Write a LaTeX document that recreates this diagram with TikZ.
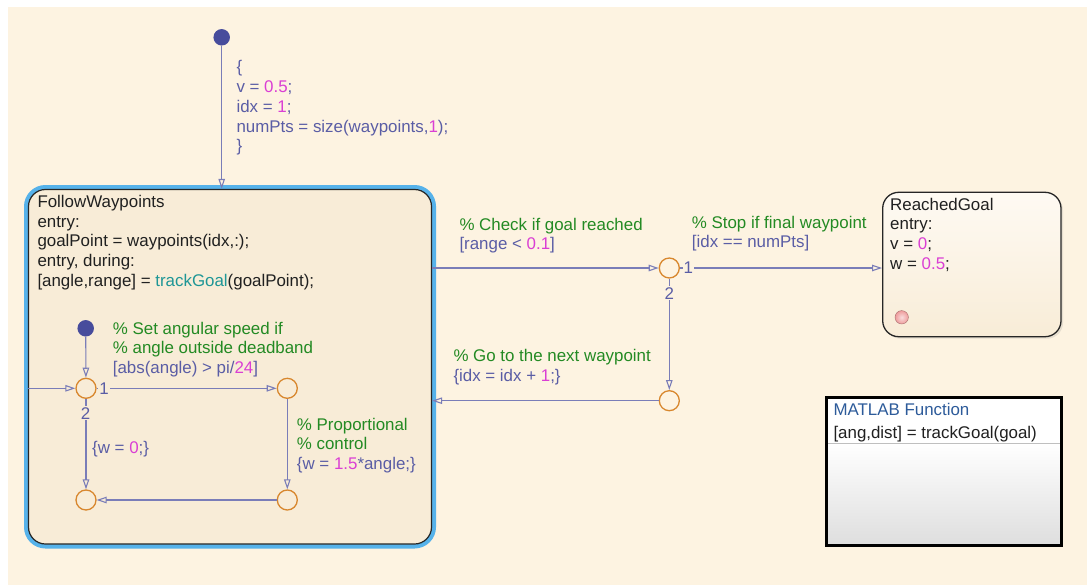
\documentclass[tikz,border=0pt]{standalone}
\usepackage{fontspec}
\setmainfont{Liberation Sans}
\usetikzlibrary{arrows.meta,shadows}

\definecolor{bgc}{HTML}{FDF3E1}
\definecolor{stfill}{HTML}{F8ECD7}
\definecolor{selc}{HTML}{56B2EA}
\definecolor{trc}{HTML}{7A7DB8}
\definecolor{trtxt}{HTML}{5A5DA5}
\definecolor{juncc}{HTML}{D8872E}
\definecolor{dotc}{HTML}{474C9C}
\definecolor{grnc}{HTML}{238A23}
\definecolor{magc}{HTML}{DA3FD4}
\definecolor{tealc}{HTML}{1E9696}
\definecolor{mfblue}{HTML}{2D5B9A}
\definecolor{pinkc}{HTML}{EE9C9C}
\definecolor{inkc}{HTML}{202020}

\newcommand{\lnstrut}{\rule{0pt}{14pt}}
\newcommand{\mg}[1]{\textcolor{magc}{#1}}
\newcommand{\gc}[1]{\textcolor{grnc}{#1}}

\begin{document}
\begin{tikzpicture}[x=1pt,y=-1pt,
  txt/.style={anchor=north west, inner sep=0pt, align=left,
    font=\fontsize{16.9}{19.7}\selectfont},
  lbl/.style={txt, text=trtxt},
  stxt/.style={txt, text=inkc},
  tr/.style={draw=trc, line width=1.1pt,
    -{Triangle[open, length=10pt, width=6.5pt]}},
  junc/.style={circle, draw=juncc, line width=1.3pt, minimum size=20pt, inner sep=0pt},
  dflt/.style={circle, fill=dotc, minimum size=16.5pt, inner sep=0pt},
  num/.style={inner sep=1pt, text=trtxt, font=\fontsize{16.9}{19.7}\selectfont},
  superstate/.style={draw=black!85, line width=1.2pt, rounded corners=17pt,
    fill=stfill, preaction={draw=selc, line width=9pt}},
  leafstate/.style={draw=black!85, line width=1.3pt, rounded corners=16pt,
    top color=white!60!bgc, bottom color=stfill,
    drop shadow={opacity=0.18, shadow xshift=2pt, shadow yshift=-2pt}}
]
\useasboundingbox (0,0) rectangle (1087,586);
\fill[bgc] (8,7) rectangle (1087,585);

% ---------- states ----------
\node[superstate, minimum width=403pt, minimum height=354.5pt] (fw) at (230,366.75) {};
\node[leafstate, minimum width=178.3pt, minimum height=144.4pt] (rg) at (971.85,264.5) {};

% MATLAB function block
\node[fill=white, minimum width=234.3pt, minimum height=147.3pt, inner sep=0pt,
  drop shadow={opacity=0.2, shadow xshift=2pt, shadow yshift=-2pt}] (mf) at (943.85,471.35) {};
\coordinate (mfsep) at (826.7,443);
\shade[top color=white, bottom color=black!13] (mfsep) rectangle (mf.south east);
\draw[black!25, line width=0.8pt] (mfsep) -- (mfsep -| mf.east);
\draw[black, line width=2.6pt] (mf.north west) rectangle (mf.south east);
\node[txt, text=mfblue] (mftitle) at (833.3,401.3) {\lnstrut MATLAB Function};
\node[stxt] (mfsig) at (833.3,424.3) {\lnstrut[ang,dist] = trackGoal(goal)};

% ---------- default transitions and junctions ----------
\node[dflt] (d0) at (221.7,37.3) {};
\node[dflt] (d1) at (85.7,328.3) {};
\node[junc] (j1) at (86,388.3) {};
\node[junc] (j2) at (287.3,388.3) {};
\node[junc] (j3) at (287.3,500) {};
\node[junc] (j4) at (86,500) {};
\node[junc] (j5) at (669.3,268) {};
\node[junc] (j6) at (669.3,400.7) {};
\node[circle, minimum size=13.4pt, inner sep=0pt, shading=radial,
  inner color=pinkc!35!white, outer color=pinkc,
  draw=pinkc!70!black, line width=0.4pt] (rgdot) at (901.7,317.3) {};

% ---------- transitions ----------
\draw[tr] (d0) -- (d0 |- fw.north);
\draw[tr] (d1) -- (j1);
\draw[tr] (fw.west |- j1) -- (j1);
\draw[tr] (j1) -- (j2);
\draw[tr] (j1) -- (j4);
\draw[tr] (j2) -- (j3);
\draw[tr] (j3) -- (j4);
\draw[tr] (fw.east |- j5) -- (j5);
\draw[tr] (j5) -- (rg.west |- j5);
\draw[tr] (j5) -- (j6);
\draw[tr] (j6) -- (fw.east |- j6);

% execution order numbers
\node[num, fill=stfill] (o11) at (104,388.3) {1};
\node[num, fill=stfill] (o12) at (85.5,413.3) {2};
\node[num, fill=bgc] (o51) at (688.3,268) {1};
\node[num, fill=bgc] (o52) at (669.3,293.3) {2};

% ---------- state texts ----------
\node[stxt] (fwtxt) at (37.3,193.3) {\lnstrut FollowWaypoints\\
  entry:\\
  goalPoint = waypoints(idx,:);\\
  entry, during:\\
  {}[angle,range] = \textcolor{tealc}{trackGoal}(goalPoint);};
\node[stxt] (rgtxt) at (890,196) {\lnstrut ReachedGoal\\
  entry:\\
  v = \mg{0};\\
  w = \mg{0.5};};

% ---------- transition labels ----------
\node[lbl] (l0) at (236.3,58.7) {\lnstrut\{\\
  v = \mg{0.5};\\
  idx = \mg{1};\\
  numPts = size(waypoints,\mg{1});\\
  \}};
\node[lbl] (l1) at (112.7,320) {\lnstrut\gc{\% Set angular speed if}\\
  \gc{\% angle outside deadband}\\
  {}[abs(angle) > pi/\mg{24}]};
\node[lbl] (l2) at (92,439.3) {\lnstrut\{w = \mg{0};\}};
\node[lbl] (l3) at (296.7,416) {\lnstrut\gc{\% Proportional}\\
  \gc{\% control}\\
  \{w = \mg{1.5}*angle;\}};
\node[lbl] (l4) at (459.3,216) {\lnstrut\gc{\% Check if goal reached}\\
  {}[range < \mg{0.1}]};
\node[lbl] (l5) at (691.7,213.8) {\lnstrut\gc{\% Stop if final waypoint}\\
  {}[idx == numPts]};
\node[lbl] (l6) at (453.3,347.3) {\lnstrut\gc{\% Go to the next waypoint}\\
  \{idx = idx + \mg{1};\}};
\end{tikzpicture}
\end{document}
